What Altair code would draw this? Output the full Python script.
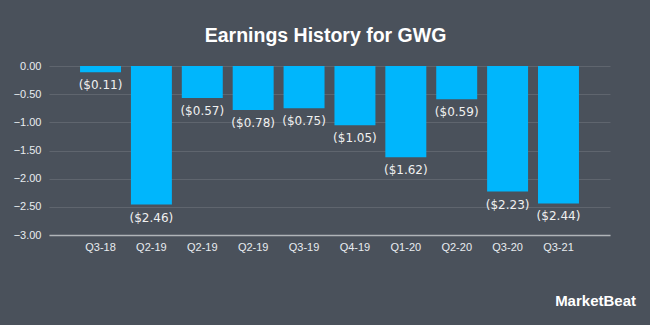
import altair as alt
import pandas as pd

quarters = ["Q3-18", "Q2-19", "Q2-19", "Q2-19", "Q3-19", "Q4-19", "Q1-20", "Q2-20", "Q3-20", "Q3-21"]
eps = [-0.11, -2.46, -0.57, -0.78, -0.75, -1.05, -1.62, -0.59, -2.23, -2.44]
y_ticks = [0, -0.5, -1, -1.5, -2, -2.5, -3]
labels = ["($%.2f)" % abs(v) for v in eps]

df = pd.DataFrame({
    "idx": list(range(len(quarters))),
    "quarter": quarters,
    "eps": eps,
    "label": labels,
})

BG = "#4a515b"
BAR = "#00b6fc"

label_expr = "[" + ",".join("'%s'" % q for q in quarters) + "][datum.value]"

x_axis = alt.Axis(
    labelExpr=label_expr,
    labelAngle=0,
    labelFont="Liberation Sans",
    labelFontSize=11,
    labelColor="#e8ecf0",
    labelPadding=6,
    ticks=False,
    domain=True,
    domainColor="#b0b4b8",
    domainWidth=1.5,
    grid=False,
)
x_scale = alt.Scale(paddingInner=0.195, paddingOuter=0.61)

y_axis = alt.Axis(
    values=y_ticks,
    format=".2f",
    labelFont="Liberation Sans",
    labelFontSize=11,
    labelColor="#e8ecf0",
    labelPadding=8,
    labelOverlap=False,
    ticks=False,
    domain=False,
    grid=True,
    gridColor="#5f656e",
    gridWidth=1,
)
y_scale = alt.Scale(domain=[-3, 0], nice=False, zero=False)

bars = alt.Chart(df).mark_bar(color=BAR).encode(
    x=alt.X("idx:O", title=None, scale=x_scale, axis=x_axis),
    y=alt.Y("eps:Q", title=None, scale=y_scale, axis=y_axis),
    y2=alt.datum(0),
)

text = alt.Chart(df).mark_text(
    baseline="top",
    dy=8,
    font="DejaVu Sans",
    fontSize=12,
    color="#f0f0f0",
).encode(
    x=alt.X("idx:O", title=None, scale=x_scale, axis=x_axis),
    y=alt.Y("eps:Q", title=None, scale=y_scale, axis=y_axis),
    text="label:N",
)

logo = alt.Chart(pd.DataFrame({"t": ["MarketBeat"]})).mark_text(
    font="Liberation Sans",
    fontSize=15,
    fontWeight="bold",
    color="#ffffff",
    align="right",
    baseline="middle",
).encode(
    x=alt.value(587),
    y=alt.value(235),
    text="t:N",
)

chart = alt.layer(bars, text, logo).properties(
    width=561,
    height=169,
    background=BG,
    padding={"left": 49, "top": 66, "right": 40, "bottom": 90},
    autosize=alt.AutoSizeParams(type="none"),
    title=alt.TitleParams(
        "Earnings History for GWG",
        font="Liberation Sans",
        fontSize=19.5,
        fontWeight="bold",
        color="#ffffff",
        anchor="middle",
        offset=14,
        dx=-4,
    ),
).configure_view(stroke=None)

chart.save("out.html", embed_options={"renderer": "svg", "actions": False})
